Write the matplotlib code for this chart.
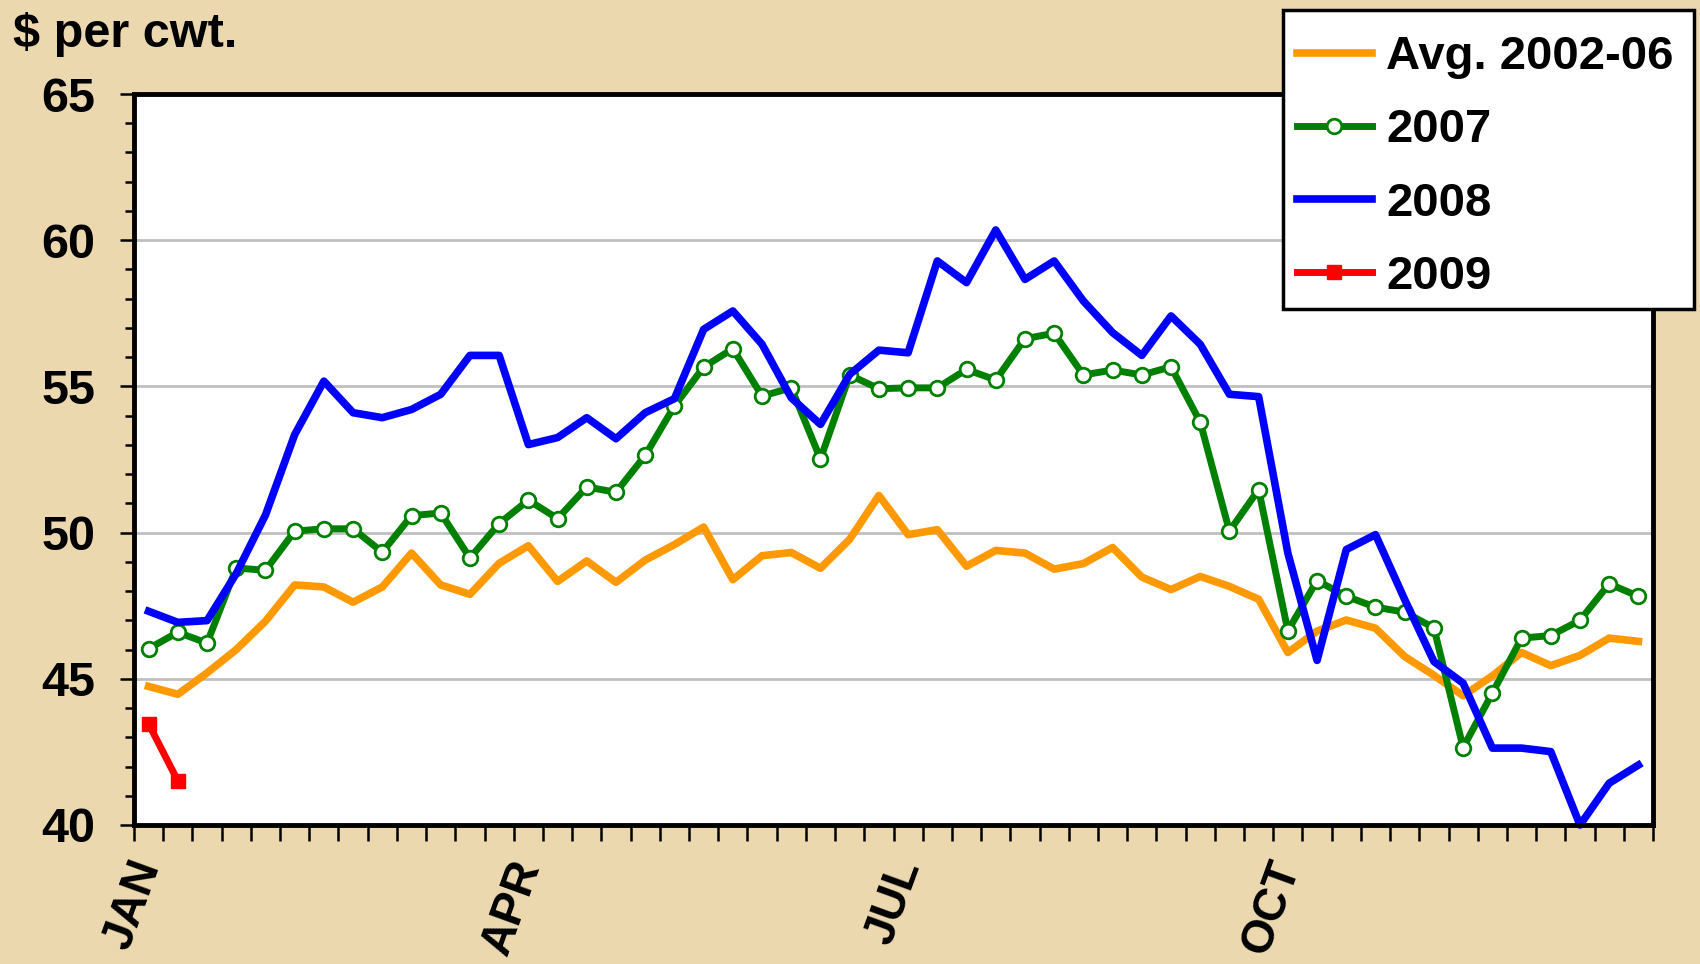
import matplotlib
matplotlib.use("Agg")
import matplotlib.pyplot as plt
import matplotlib.transforms as mtransforms
from matplotlib.patches import Rectangle
from matplotlib.ticker import MultipleLocator

plt.rcParams['font.family'] = ['Liberation Sans', 'DejaVu Sans']
plt.rcParams['font.weight'] = 'bold'

# weekly prices, $ per cwt (52 weeks)
avg_0206 = [44.74, 44.47, 45.2, 46.0, 46.97, 48.21, 48.14, 47.62, 48.14, 49.3,
            48.21, 47.89, 48.95, 49.55, 48.33, 49.03, 48.3, 49.06, 49.59, 50.19,
            48.39, 49.21, 49.32, 48.78, 49.77, 51.27, 49.93, 50.1, 48.85, 49.39,
            49.3, 48.75, 48.94, 49.49, 48.48, 48.05, 48.5, 48.16, 47.72, 45.9,
            46.63, 47.01, 46.73, 45.76, 45.12, 44.42, 45.1, 45.9, 45.45, 45.8,
            46.39, 46.28]
y2007 = [46.03, 46.59, 46.22, 48.79, 48.71, 50.05, 50.13, 50.13, 49.33, 50.58,
         50.67, 49.13, 50.31, 51.11, 50.48, 51.56, 51.38, 52.64, 54.33, 55.66,
         56.29, 54.67, 54.95, 52.52, 55.39, 54.92, 54.95, 54.95, 55.58, 55.22,
         56.63, 56.82, 55.39, 55.56, 55.39, 55.67, 53.78, 50.05, 51.47, 46.64,
         48.36, 47.82, 47.45, 47.28, 46.74, 42.65, 44.51, 46.39, 46.48, 47.0,
         48.25, 47.82]
y2008 = [47.31, 46.93, 46.99, 48.6, 50.6, 53.35, 55.18, 54.1, 53.93, 54.21,
         54.73, 56.06, 56.06, 53.01, 53.25, 53.93, 53.21, 54.1, 54.58, 56.95,
         57.58, 56.44, 54.61, 53.7, 55.41, 56.24, 56.15, 59.29, 58.55, 60.35,
         58.66, 59.29, 57.92, 56.84, 56.06, 57.41, 56.44, 54.73, 54.65, 49.3,
         45.63, 49.42, 49.93, 47.71, 45.59, 44.85, 42.63, 42.63, 42.51, 40.0,
         41.43, 42.05]
y2009 = [43.46, 41.51]

months = ["JAN", "APR", "JUL", "OCT"]
month_weeks = [0, 13, 26, 39]

W, H = 1700, 964
bg = "#EBD8AE"
fig = plt.figure(figsize=(17, 9.64), dpi=100, facecolor=bg)
ax = fig.add_axes([134/W, 1 - 825/H, (1653-134)/W, (825-94)/H])
ax.set_facecolor("white")

weeks = [i + 0.5 for i in range(52)]

for v in [45, 50, 55, 60]:
    ax.axhline(v, color="#C0C0C0", lw=2, zorder=1)

ax.plot(weeks, avg_0206, color="#FF9900", lw=5.5, label="Avg. 2002-06", zorder=3)
ax.plot(weeks, y2007, color="#008000", lw=5, marker="o", ms=10.5,
        mfc="white", mec="#008000", mew=2, label="2007", zorder=4)
ax.plot(weeks, y2008, color="#0000FF", lw=5.5, label="2008", zorder=5, clip_on=False)
ax.plot(weeks[:2], y2009, color="#FF0000", lw=5, marker="s", ms=10,
        label="2009", zorder=6)

ax.set_xlim(0, 52)
ax.set_ylim(40, 65)
ax.xaxis.set_major_locator(MultipleLocator(1))
ax.yaxis.set_major_locator(MultipleLocator(5))
ax.yaxis.set_minor_locator(MultipleLocator(1))
ax.set_xticklabels([])
ax.tick_params(axis="x", which="major", length=11.5, width=1.8, direction="out")
ax.tick_params(axis="y", which="major", length=10, width=1.8, direction="out",
               labelsize=35, pad=18)
ax.tick_params(axis="y", which="minor", length=6.5, width=1.8, direction="out")
for lab in ax.get_yticklabels():
    lab.set_fontweight("bold")
for s in ax.spines.values():
    s.set_linewidth(3.5)
    s.set_zorder(7)

trans = mtransforms.blended_transform_factory(ax.transData, ax.transAxes)
for m, w in zip(months, month_weeks):
    ax.text(w - 0.2, -0.04, m, transform=trans, rotation=70,
            rotation_mode="anchor", ha="right", va="top",
            fontsize=33, fontweight="bold")

fig.text(13/W, 1 - 47/H, "$ per cwt.", fontsize=35, fontweight="bold",
         ha="left", va="baseline")

# legend box drawn separately so its padding can be taller than wide
fig.patches.append(Rectangle((1283/W, 1 - 309/H), (1694-1283)/W, (309-10)/H,
                             transform=fig.transFigure, facecolor="white",
                             edgecolor="black", lw=2.5, zorder=8))
leg = fig.legend(loc="upper right", bbox_to_anchor=(1688/W, 1 - 21/H),
                 fontsize=34, frameon=False, borderaxespad=0, borderpad=0.3,
                 handlelength=1.6, handletextpad=0.3, labelspacing=0.62)
leg.set_zorder(9)
for t in leg.get_texts():
    t.set_fontweight("bold")

fig.savefig("out.png", dpi=100, facecolor=bg)
